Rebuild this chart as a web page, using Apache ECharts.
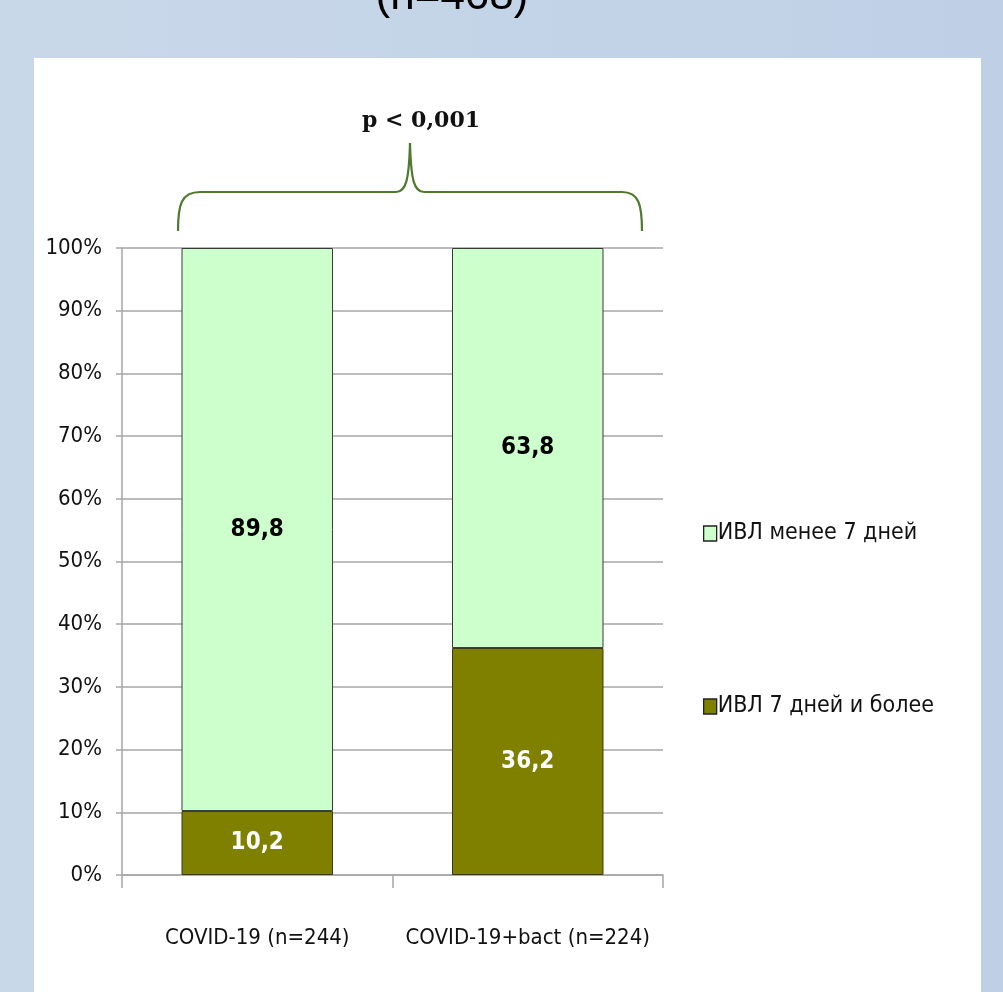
<!DOCTYPE html>
<html>
<head>
<meta charset="utf-8">
<style>
  html, body { margin: 0; padding: 0; }
  #chart { width: 1003px; height: 992px; }
</style>
<script src="https://cdn.jsdelivr.net/npm/echarts@6/dist/echarts.min.js"></script>
</head>
<body>
<div id="chart"></div>
<script>
// Duration of mechanical ventilation by patient group, % of patients
const categories = ['COVID-19 (n=244)', 'COVID-19+bact (n=224)'];
const longVent = [10.2, 36.2];   // ИВЛ 7 дней и более
const shortVent = [89.8, 63.8];  // ИВЛ менее 7 дней
const seriesNames = ['ИВЛ менее 7 дней', 'ИВЛ 7 дней и более'];
const pValueText = 'p < 0,001';
const headingText = '(n=468)';

const narrow = '"DejaVu Sans Condensed", "Liberation Sans Narrow", "Liberation Sans", sans-serif';
const fmt = v => String(v).replace('.', ',');

const chart = echarts.init(document.getElementById('chart'));

const braceColor = '#4f7a2e';
const braceStyle = { stroke: braceColor, lineWidth: 2.2, fill: null };

function curve(x1, y1, c1x, c1y, c2x, c2y, x2, y2) {
  return {
    type: 'bezierCurve', z: 10, silent: true,
    shape: { x1, y1, cpx1: c1x, cpy1: c1y, cpx2: c2x, cpy2: c2y, x2, y2 },
    style: braceStyle
  };
}
function segment(x1, y1, x2, y2) {
  return { type: 'line', z: 10, silent: true, shape: { x1, y1, x2, y2 }, style: braceStyle };
}

chart.setOption({
  backgroundColor: {
    type: 'linear', x: 0, y: 0, x2: 1, y2: 0,
    colorStops: [{ offset: 0, color: '#c9d8e9' }, { offset: 1, color: '#bfd0e6' }]
  },
  animation: false,
  grid: { left: 122, right: 340, top: 248, bottom: 117 },
  legend: {
    orient: 'vertical',
    left: 698,
    top: 517,
    itemGap: 150,
    itemWidth: 13,
    itemHeight: 15,
    icon: 'rect',
    data: [
      { name: seriesNames[0], itemStyle: { color: '#ccffcc', borderColor: '#222', borderWidth: 1.3 } },
      { name: seriesNames[1], itemStyle: { color: '#808000', borderColor: '#222', borderWidth: 1.3 } }
    ],
    textStyle: { fontFamily: narrow, fontSize: 23, color: '#111', padding: [0, 0, 0, -4] }
  },
  xAxis: {
    type: 'category',
    data: categories,
    axisLine: { lineStyle: { color: '#a6a6a6', width: 1.5 } },
    axisTick: { show: true, length: 13, interval: 0, lineStyle: { color: '#a6a6a6', width: 1.5 } },
    axisLabel: { interval: 0, fontFamily: narrow, fontSize: 22, color: '#111', margin: 52 }
  },
  yAxis: {
    type: 'value',
    min: 0, max: 100, interval: 10,
    axisLine: { show: true, lineStyle: { color: '#a6a6a6', width: 1.5 } },
    axisTick: { show: true, length: 6, lineStyle: { color: '#a6a6a6', width: 1.5 } },
    splitLine: { lineStyle: { color: '#a6a6a6', width: 1.5 } },
    axisLabel: { fontFamily: narrow, fontSize: 22, color: '#111', margin: 20, formatter: '{value}%' }
  },
  series: [
    {
      name: seriesNames[1],
      type: 'bar',
      stack: 'total',
      barWidth: '56%',
      data: longVent,
      itemStyle: { color: '#808000', borderColor: '#3a3a1a', borderWidth: 1 },
      label: {
        show: true, position: 'inside',
        fontFamily: narrow, fontSize: 24, fontWeight: 'bold', color: '#ffffff',
        formatter: p => fmt(p.value)
      }
    },
    {
      name: seriesNames[0],
      type: 'bar',
      stack: 'total',
      data: shortVent,
      itemStyle: { color: '#ccffcc', borderColor: '#3a3a3a', borderWidth: 1 },
      label: {
        show: true, position: 'inside',
        fontFamily: narrow, fontSize: 24, fontWeight: 'bold', color: '#000000',
        formatter: p => fmt(p.value)
      }
    }
  ],
  graphic: [
    // white card behind the chart
    {
      type: 'rect', z: -10, silent: true,
      shape: { x: 34, y: 58, width: 947, height: 940 },
      style: { fill: '#ffffff' }
    },
    // heading running off the top edge
    {
      type: 'text', x: 452, y: -25, silent: true,
      style: { text: headingText, align: 'center', verticalAlign: 'top',
               font: '44px "Liberation Sans", Arial, sans-serif', fill: '#000' }
    },
    // significance brace spanning both groups
    curve(178, 231, 178, 205, 181, 192, 200, 192),
    segment(200, 192, 396, 192),
    curve(396, 192, 406, 192, 409, 180, 410, 143),
    curve(410, 143, 411, 180, 414, 192, 424, 192),
    segment(424, 192, 622, 192),
    curve(622, 192, 639, 192, 642, 205, 642, 231),
    {
      type: 'text', z: 10, x: 421, y: 121, silent: true,
      style: {
        text: pValueText, align: 'center', verticalAlign: 'middle',
        font: 'bold 22px "DejaVu Serif", "Liberation Serif", serif', fill: '#111'
      }
    }
  ]
});
</script>
</body>
</html>
